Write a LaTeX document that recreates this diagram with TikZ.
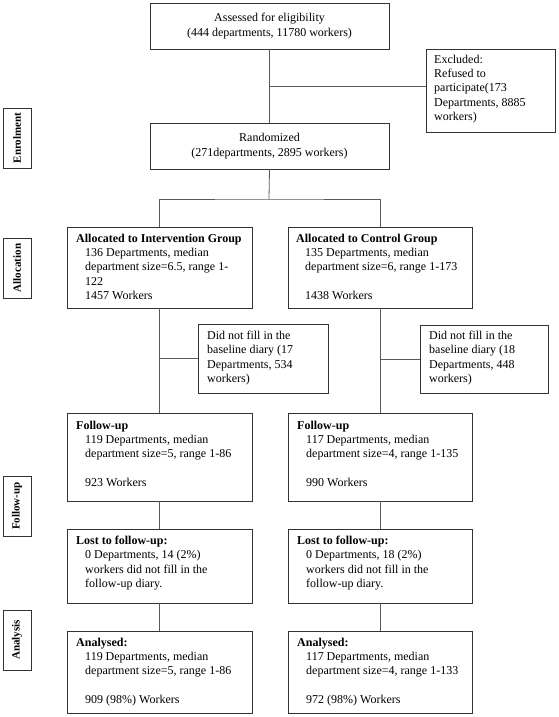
\documentclass[tikz,border=0pt]{standalone}
\usepackage{fontspec}
\setmainfont{Liberation Serif}
\begin{document}
\begin{tikzpicture}[x=1pt,y=-1pt,
  box/.style={draw=black!80, line width=0.8pt, inner sep=0pt, outer sep=0pt, anchor=north west},
  txt/.style={inner sep=0pt, anchor=north west, align=left, font=\fontsize{12}{14.2}\selectfont},
  ctxt/.style={inner sep=0pt, align=center, font=\fontsize{12}{15}\selectfont},
  lbl/.style={draw=black!80, line width=0.8pt, rotate=90, minimum width=60pt, minimum height=28pt, inner sep=2pt, font=\fontsize{11}{12}\selectfont\bfseries},
  conn/.style={draw=black!65, line width=0.8pt}]
\useasboundingbox (0,0) rectangle (558,717);
% boxes
\node[box, minimum width=239pt, minimum height=46pt] (assess) at (150,3) {};
\node[box, minimum width=129pt, minimum height=83pt] (excl) at (426,49) {};
\node[box, minimum width=239pt, minimum height=46pt] (rand) at (150,123) {};
\node[box, minimum width=185pt, minimum height=81pt] (int) at (67,227) {};
\node[box, minimum width=184pt, minimum height=81pt] (ctrl) at (288,227) {};
\node[box, minimum width=130pt, minimum height=69pt] (did1) at (198,324) {};
\node[box, minimum width=128pt, minimum height=68pt] (did2) at (420,325) {};
\node[box, minimum width=185pt, minimum height=88pt] (fu1) at (67,413) {};
\node[box, minimum width=184pt, minimum height=88pt] (fu2) at (288,413) {};
\node[box, minimum width=185pt, minimum height=74pt] (lost1) at (67,529) {};
\node[box, minimum width=184pt, minimum height=74pt] (lost2) at (288,529) {};
\node[box, minimum width=185pt, minimum height=82pt] (an1) at (67,631) {};
\node[box, minimum width=184pt, minimum height=82pt] (an2) at (288,631) {};
% texts
\node[ctxt] (tassess) at (assess.center) {Assessed for eligibility\\(444 departments, 11780 workers)};
\node[ctxt] (trand) at (rand.center) {Randomized\\(271departments, 2895 workers)};
\node[txt] (texcl) at (434,55) {Excluded:\\Refused to\\participate(173\\Departments, 8885\\workers)};
\node[txt] (tint) at (76,234) {\textbf{Allocated to Intervention Group}\\
\hspace{9pt}136 Departments, median\\\hspace{9pt}department size=6.5, range 1-\\\hspace{9pt}122\\\hspace{9pt}1457 Workers};
\node[txt] (tctrl) at (296,234) {\textbf{Allocated to Control Group}\\
\hspace{9pt}135 Departments, median\\\hspace{9pt}department size=6, range 1-173\\[14.2pt]\hspace{9pt}1438 Workers};
\node[txt] (tdid1) at (207,331) {Did not fill in the\\baseline diary (17\\Departments, 534\\workers)};
\node[txt] (tdid2) at (429,331) {Did not fill in the\\baseline diary (18\\Departments, 448\\workers)};
\node[txt] (tfu1) at (76,421) {\textbf{Follow-up}\\
\hspace{9pt}119 Departments, median\\\hspace{9pt}department size=5, range 1-86\\[14.2pt]\hspace{9pt}923 Workers};
\node[txt] (tfu2) at (297,421) {\textbf{Follow-up}\\
\hspace{9pt}117 Departments, median\\\hspace{9pt}department size=4, range 1-135\\[14.2pt]\hspace{9pt}990 Workers};
\node[txt] (tlost1) at (76,536) {\textbf{Lost to follow-up:}\\
\hspace{9pt}0 Departments, 14 (2\%)\\\hspace{9pt}workers did not fill in the\\\hspace{9pt}follow-up diary.};
\node[txt] (tlost2) at (297,536) {\textbf{Lost to follow-up:}\\
\hspace{9pt}0 Departments, 18 (2\%)\\\hspace{9pt}workers did not fill in the\\\hspace{9pt}follow-up diary.};
\node[txt] (tan1) at (76,638) {\textbf{Analysed:}\\
\hspace{9pt}119 Departments, median\\\hspace{9pt}department size=5, range 1-86\\[14.2pt]\hspace{9pt}909 (98\%) Workers};
\node[txt] (tan2) at (297,638) {\textbf{Analysed:}\\
\hspace{9pt}117 Departments, median\\\hspace{9pt}department size=4, range 1-133\\[14.2pt]\hspace{9pt}972 (98\%) Workers};
% side labels
\node[lbl] (l1) at (17,138) {Enrolment};
\node[lbl] (l2) at (17,268) {Allocation};
\node[lbl] (l3) at (17,506) {Follow-up};
\node[lbl] (l4) at (17,640) {Analysis};
% connectors
\coordinate (j1) at (269,86);
\coordinate (j2) at (269,199);
\draw[conn] (assess.south) -- (rand.north);
\draw[conn] (j1) -- (j1 -| excl.west);
\draw[conn] (rand.south) -- (j2);
\draw[conn] (int.north) |- (j2) -| (ctrl.north);
\draw[conn] (int.south) -- (fu1.north);
\draw[conn] (ctrl.south) -- (fu2.north);
\draw[conn] (int.south |- did1.west) -- (did1.west);
\draw[conn] (ctrl.south |- did2.west) -- (did2.west);
\draw[conn] (fu1.south) -- (lost1.north);
\draw[conn] (fu2.south) -- (lost2.north);
\draw[conn] (lost1.south) -- (an1.north);
\draw[conn] (lost2.south) -- (an2.north);
\end{tikzpicture}
\end{document}
